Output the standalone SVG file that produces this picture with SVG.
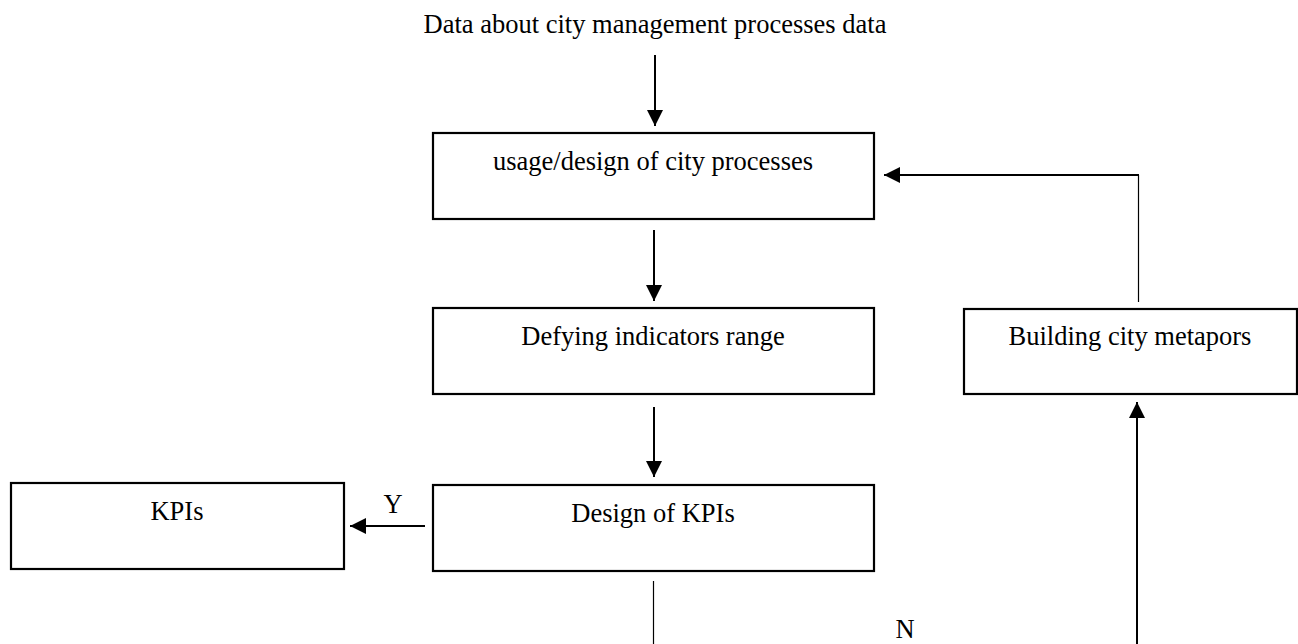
<svg xmlns="http://www.w3.org/2000/svg" width="1298" height="644" viewBox="0 0 1298 644">
  <style>
    .box { fill: #ffffff; stroke: #000000; stroke-width: 2.2; }
    .lbl { font-family: "Liberation Serif", "Times New Roman", serif; font-size: 26.5px; fill: #000000; text-anchor: middle; }
    .ln { fill: none; stroke: #000000; stroke-width: 2; }
    .thin { fill: none; stroke: #000000; stroke-width: 1.2; }
  </style>
  <defs>
    <marker id="arrow" markerUnits="userSpaceOnUse" markerWidth="17" markerHeight="17" refX="16" refY="8" orient="auto">
      <path d="M0,0 L16,8 L0,16 z" fill="#000000"/>
    </marker>
  </defs>
  <rect width="1298" height="644" fill="#ffffff"/>

  <g id="input">
    <text class="lbl" x="655" y="33">Data about city management processes data</text>
  </g>

  <g id="usage">
    <rect class="box" x="433" y="133" width="441" height="86"/>
    <text class="lbl" x="653" y="170">usage/design of city processes</text>
  </g>

  <g id="defying">
    <rect class="box" x="433" y="308" width="441" height="86"/>
    <text class="lbl" x="653" y="345">Defying indicators range</text>
  </g>

  <g id="designkpis">
    <rect class="box" x="433" y="485" width="441" height="86"/>
    <text class="lbl" x="653" y="522">Design of KPIs</text>
  </g>

  <g id="kpis">
    <rect class="box" x="11" y="483" width="333" height="86"/>
    <text class="lbl" x="177" y="520">KPIs</text>
  </g>

  <g id="building">
    <rect class="box" x="964" y="309" width="333" height="85"/>
    <text class="lbl" x="1130" y="345">Building city metapors</text>
  </g>

  <g id="connectors">
    <line class="ln" x1="655" y1="55" x2="655" y2="126" marker-end="url(#arrow)"/>
    <line class="ln" x1="654" y1="230" x2="654" y2="301" marker-end="url(#arrow)"/>
    <line class="ln" x1="654" y1="407" x2="654" y2="477" marker-end="url(#arrow)"/>
    <line class="ln" x1="425" y1="526" x2="350" y2="526" marker-end="url(#arrow)"/>
    <line class="thin" x1="1138.5" y1="302" x2="1138.5" y2="175"/>
    <line class="ln" x1="1139" y1="175" x2="884" y2="175" marker-end="url(#arrow)"/>
    <line class="thin" x1="653.5" y1="581" x2="653.5" y2="644"/>
    <line class="ln" x1="1137" y1="644" x2="1137" y2="402" marker-end="url(#arrow)"/>
    <text class="lbl" x="393" y="513">Y</text>
    <text class="lbl" x="905" y="638">N</text>
  </g>
</svg>
